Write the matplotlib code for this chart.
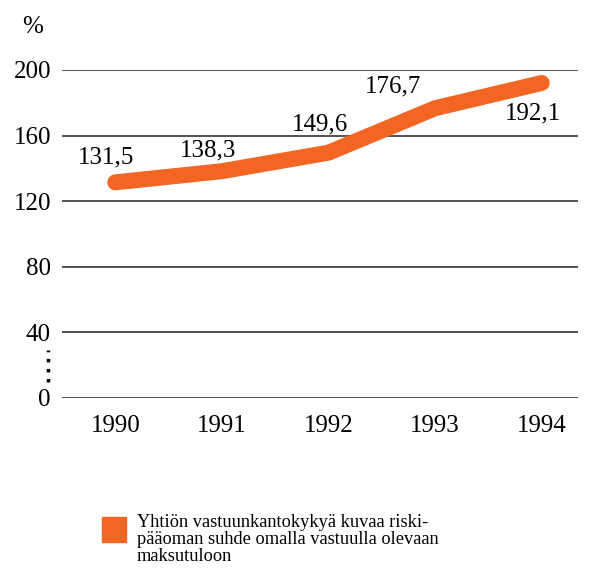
import matplotlib.pyplot as plt

years = [1990, 1991, 1992, 1993, 1994]
values = [131.5, 138.3, 149.6, 176.7, 192.1]
labels = ["131,5", "138,3", "149,6", "176,7", "192,1"]
yticks = [0, 40, 80, 120, 160, 200]
legend_text = "Yhtiön vastuunkantokykyä kuvaa riski-\npääoman suhde omalla vastuulla olevaan\nmaksutuloon"

ORANGE = "#f26522"
# label offsets in points from each data point
OFFSETS = [(-7, 18), (-10, 15), (-6, 20), (-30, 16), (-6, -22)]

plt.rcParams['font.family'] = ['Liberation Serif', 'DejaVu Serif']
FS = 18

fig = plt.figure(figsize=(5.92, 5.74), dpi=100)
ax = fig.add_axes([62 / 592, 1 - 398 / 574, 516 / 592, 328 / 574])

for t in yticks:
    ax.axhline(t, color="#222222", lw=1.1, zorder=1)

ax.plot(years, values, color=ORANGE, lw=11.5, solid_capstyle="round",
        solid_joinstyle="round", zorder=3)

for x, y, lab, off in zip(years, values, labels, OFFSETS):
    ax.annotate(lab, (x, y), xytext=off, textcoords="offset points",
                ha="center", va="center", fontsize=FS, zorder=4)

ax.set_xlim(1989.5, 1994.34)
ax.set_ylim(0, 200)
ax.set_yticks(yticks)
ax.set_yticklabels([str(t) for t in yticks], fontsize=FS)
ax.set_xticks(years)
ax.set_xticklabels([str(y) for y in years], fontsize=FS)
ax.tick_params(length=0, pad=8)
ax.tick_params(axis="x", pad=12)
for s in ax.spines.values():
    s.set_visible(False)

# broken-axis dots between 0 and 40
ax.plot([-0.027, -0.027], [0.05, 0.145], transform=ax.transAxes, color="black",
        lw=2.5, ls=(0, (1, 1.9)), clip_on=False)

fig.text(22 / 592, 1 - 27 / 574, "%", fontsize=FS, va="center", ha="left")

fig.patches.append(plt.Rectangle((102 / 592, 1 - 542 / 574), 24 / 592, 25 / 574,
                                 transform=fig.transFigure, color=ORANGE))
fig.text(137 / 592, 1 - 514 / 574, legend_text, fontsize=13.2, va="top",
         ha="left", linespacing=1.0)

fig.savefig("out.png", dpi=100)
